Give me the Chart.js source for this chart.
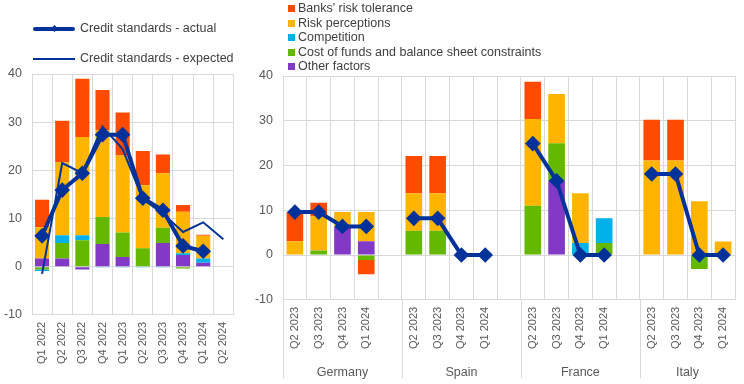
<!DOCTYPE html>
<html>
<head>
<meta charset="UTF-8">
<title>Credit standards</title>
<script src="https://cdn.jsdelivr.net/npm/chart.js/dist/chart.umd.min.js"></script>
<style>
  body { margin: 0; width: 744px; height: 384px; background: #fff; position: relative; overflow: hidden;
         font-family: "Liberation Sans", Arial, sans-serif; color: #404040; }
  #leftBox { position: absolute; left: 0; top: 0; width: 244px; height: 384px; }
  #rightBox { position: absolute; left: 244px; top: 0; width: 500px; height: 384px; }
  .lg { position: absolute; font-size: 12.5px; white-space: nowrap; }
  .lg .item { position: absolute; left: 0; height: 15px; line-height: 15px; }
  .sw { position: absolute; left: 0; top: 4px; width: 7px; height: 7px; }
  .ln { position: absolute; left: 0; width: 42px; background: #003299; }
  .dia { position: absolute; width: 5px; height: 5px; background: #003299; transform: rotate(45deg); }
</style>
</head>
<body>
<div id="leftBox"><canvas id="leftChart"></canvas></div>
<div id="rightBox"><canvas id="rightChart"></canvas></div>

<!-- legends -->
<div class="lg" style="left:33px; top:21px;">
  <div class="item" style="top:0;">
    <div class="ln" style="top:6px; height:4px; border-radius:2px;"></div>
    <div class="dia" style="left:19px; top:5px;"></div>
    <span style="position:absolute; left:47px;">Credit standards - actual</span>
  </div>
  <div class="item" style="top:30px;">
    <div class="ln" style="top:7px; height:2px;"></div>
    <span style="position:absolute; left:47px;">Credit standards - expected</span>
  </div>
</div>
<div class="lg" id="rightLegend" style="left:288px; top:1px;"></div>

<script>
// ---------- left chart data (euro area) ----------
const leftLabels = ['Q1 2022','Q2 2022','Q3 2022','Q4 2022','Q1 2023','Q2 2023','Q3 2023','Q4 2023','Q1 2024','Q2 2024'];
const leftOther  = [1.7, 1.7, -0.6, 4.7, 2.0, 0.0, 4.9, 2.4, 0.8, null];
const leftCost   = [-0.6, 3.2, 5.5, 5.6, 5.1, 3.8, 3.2, -0.4, 0.0, null];
const leftComp   = [-0.3, 1.6, 1.0, -0.2, -0.2, -0.1, -0.2, 0.4, 0.9, null];
const leftRisk   = [6.5, 15.2, 20.4, 18.0, 16.0, 13.1, 11.3, 8.6, 4.7, null];
const leftTol    = [5.7, 8.6, 12.1, 8.4, 8.9, 7.1, 3.9, 1.4, 0.2, null];
const leftActual   = [6.4, 15.9, 19.4, 27.4, 27.4, 14.2, 11.7, 4.3, 3.2, null];
const leftExpected = [-1.5, 21.5, 19.4, 29.1, 24.4, 14.0, 11.0, 7.2, 9.2, 5.7];

// ---------- right chart data (countries, blank slot between groups) ----------
const countries = ['Germany', 'Spain', 'France', 'Italy'];
const rightLabels = ['Q2 2023','Q3 2023','Q4 2023','Q1 2024','',
                     'Q2 2023','Q3 2023','Q4 2023','Q1 2024','',
                     'Q2 2023','Q3 2023','Q4 2023','Q1 2024','',
                     'Q2 2023','Q3 2023','Q4 2023','Q1 2024'];
const rightOther = [0, 0, 6.4, 3.1, null,   0, 0, 0, 0, null,   0, 16.6, 0, 0, null,    0, 0, 0, 0];
const rightCost  = [0, 1.0, 0, -1.1, null,  5.4, 5.4, 0, 0, null, 11.0, 8.4, 0, 2.7, null, 0, 0, -3.1, 0];
const rightComp  = [0, 0, 0, 0, null,       0, 0, 0, 0, null,   0, 0, 2.7, 5.5, null,   0, 0, 0, 0];
const rightRisk  = [3.1, 7.7, 3.2, 6.5, null, 8.4, 8.4, 0, 0, null, 19.4, 11.0, 11.1, 0, null, 21.1, 21.1, 12.0, 3.0];
const rightTol   = [6.5, 3.0, 0, -3.2, null,  8.3, 8.3, 0, 0, null,  8.3, 0, 0, 0, null,   9.1, 9.1, 0, 0];
const rightActual = [9.6, 9.6, 6.4, 6.4, null, 8.2, 8.2, 0, 0, null, 24.9, 16.6, 0, 0, null, 18.1, 18.1, 0, 0];

const yTicks = [-10, 0, 10, 20, 30, 40];

// colours
const cTol = '#FF4B00', cRisk = '#FFB400', cComp = '#00B1EA', cCost = '#65B800', cOther = '#8139C6';
const cLine = '#003299';
const gridCol = '#d9d9d9';
const textCol = '#595959';
const fontFam = '"Liberation Sans", Arial, sans-serif';

const factorNames = ["Banks' risk tolerance", 'Risk perceptions', 'Competition',
                     'Cost of funds and balance sheet constraints', 'Other factors'];
const factorCols = [cTol, cRisk, cComp, cCost, cOther];

// right legend (html)
const rl = document.getElementById('rightLegend');
factorNames.forEach((n, i) => {
  const d = document.createElement('div');
  d.className = 'item';
  d.style.top = (i * 14.6) + 'px';
  d.innerHTML = '<div class="sw" style="background:' + factorCols[i] + '"></div>' +
                '<span style="position:absolute; left:10px;">' + n + '</span>';
  rl.appendChild(d);
});

function barSet(label, data, color) {
  return { type: 'bar', label: label, data: data, backgroundColor: color, borderWidth: 0,
           barPercentage: 0.7, categoryPercentage: 1.0, order: 2 };
}

function yScale(w) {
  return {
    stacked: true, min: -10, max: 40,
    afterBuildTicks: (s) => { s.ticks = yTicks.map(v => ({ value: v })); },
    afterFit: (s) => { s.width = w; },
    grid: { color: gridCol, drawTicks: false },
    border: { display: false },
    ticks: { color: textCol, padding: 10, font: { family: fontFam, size: 12.5 } }
  };
}

Chart.defaults.animation = false;

// ---------- left chart ----------
new Chart(document.getElementById('leftChart'), {
  data: {
    labels: leftLabels,
    datasets: [
      { type: 'line', label: 'Credit standards - actual', data: leftActual, stack: 'act',
        borderColor: cLine, backgroundColor: cLine, borderWidth: 4, pointStyle: 'rectRot',
        pointRadius: 5, order: 0 },
      { type: 'line', label: 'Credit standards - expected', data: leftExpected, stack: 'exp',
        borderColor: cLine, borderWidth: 2, pointRadius: 0, order: 1 },
      barSet('Other factors', leftOther, cOther),
      barSet('Cost of funds and balance sheet constraints', leftCost, cCost),
      barSet('Competition', leftComp, cComp),
      barSet('Risk perceptions', leftRisk, cRisk),
      barSet("Banks' risk tolerance", leftTol, cTol)
    ]
  },
  options: {
    responsive: true, maintainAspectRatio: false,
    layout: { padding: { left: 0, right: 7, top: 74, bottom: 13 } },
    plugins: { legend: { display: false }, tooltip: { enabled: false } },
    scales: {
      x: {
        stacked: true, offset: true,
        grid: { color: gridCol, offset: true, drawTicks: false },
        border: { display: false },
        ticks: { color: textCol, minRotation: 90, maxRotation: 90, padding: 7,
                 font: { family: fontFam, size: 11 } }
      },
      y: yScale(32)
    }
  }
});

// group labels and separators under the right chart
const groupPlugin = {
  id: 'groups',
  afterDraw(chart) {
    const ctx = chart.ctx, xs = chart.scales.x, area = chart.chartArea;
    const half = (xs.getPixelForValue(1) - xs.getPixelForValue(0)) / 2;
    ctx.save();
    ctx.strokeStyle = gridCol;
    ctx.lineWidth = 1;
    ctx.fillStyle = textCol;
    ctx.font = '12.5px ' + fontFam;
    ctx.textAlign = 'center';
    ctx.textBaseline = 'middle';
    countries.forEach((c, g) => {
      const left = xs.getPixelForValue(g * 5) - half;
      const right = Math.min(xs.getPixelForValue(g * 5 + 4) + half, area.right);
      const xl = Math.round(left) + 0.5;
      ctx.beginPath();
      ctx.moveTo(xl, area.bottom);
      ctx.lineTo(xl, chart.height - 6);
      ctx.stroke();
      ctx.fillText(c, (left + right) / 2, chart.height - 11);
    });
    ctx.restore();
  }
};

// ---------- right chart ----------
new Chart(document.getElementById('rightChart'), {
  data: {
    labels: rightLabels,
    datasets: [
      { type: 'line', label: 'Credit standards - actual', data: rightActual, stack: 'act',
        borderColor: cLine, backgroundColor: cLine, borderWidth: 4, pointStyle: 'rectRot',
        pointRadius: 5, spanGaps: false, order: 0 },
      barSet('Other factors', rightOther, cOther),
      barSet('Cost of funds and balance sheet constraints', rightCost, cCost),
      barSet('Competition', rightComp, cComp),
      barSet('Risk perceptions', rightRisk, cRisk),
      barSet("Banks' risk tolerance", rightTol, cTol)
    ]
  },
  options: {
    responsive: true, maintainAspectRatio: false,
    layout: { padding: { left: 0, right: 7, top: 76, bottom: 28 } },
    plugins: { legend: { display: false }, tooltip: { enabled: false } },
    scales: {
      x: {
        stacked: true, offset: true,
        grid: { color: gridCol, offset: true, drawTicks: false },
        border: { display: false },
        ticks: { color: textCol, minRotation: 90, maxRotation: 90, padding: 7, autoSkip: false,
                 font: { family: fontFam, size: 11 } }
      },
      y: yScale(39)
    }
  },
  plugins: [groupPlugin]
});
</script>
</body>
</html>
